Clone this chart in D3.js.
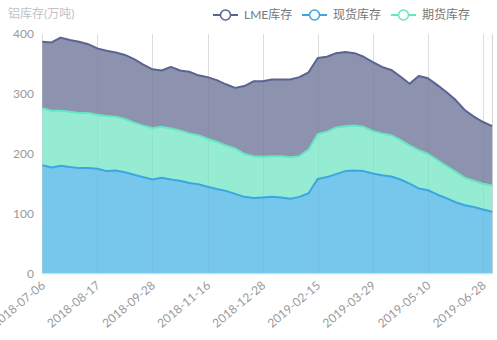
<!DOCTYPE html>
<html>
<head>
<meta charset="utf-8">
<script src="https://cdn.jsdelivr.net/npm/d3@7/dist/d3.min.js"></script>
<style>
  html, body { margin: 0; padding: 0; background: #fff; }
  svg { display: block; font-family: Lato, "Noto Sans CJK SC", sans-serif; }
</style>
</head>
<body>
<svg id="chart" width="497" height="340"></svg>
<script>
// Weekly aluminium inventory (万吨)
const dates = [
  "2018-07-06","2018-07-13","2018-07-20","2018-07-27","2018-08-03","2018-08-10",
  "2018-08-17","2018-08-24","2018-08-31","2018-09-07","2018-09-14","2018-09-21",
  "2018-09-28","2018-10-12","2018-10-19","2018-10-26","2018-11-02","2018-11-09",
  "2018-11-16","2018-11-23","2018-11-30","2018-12-07","2018-12-14","2018-12-21",
  "2018-12-28","2019-01-04","2019-01-11","2019-01-18","2019-01-25","2019-02-01",
  "2019-02-15","2019-02-22","2019-03-01","2019-03-08","2019-03-15","2019-03-22",
  "2019-03-29","2019-04-04","2019-04-12","2019-04-19","2019-04-26","2019-05-03",
  "2019-05-10","2019-05-17","2019-05-24","2019-05-31","2019-06-14","2019-06-21",
  "2019-06-28","2019-07-05"
];

const spotStock = [
  181,177,180,178,176,176,175,171,172,169,165,161,157,160,157,155,151,149,
  145,141,138,133,128,126,127,128,127,125,128,134,158,161,166,171,172,171,
  167,164,162,157,150,142,139,132,126,119,114,111,107,103
];

const futuresStock = [
  95,95,92,92,92,92,90,92,90,89,87,86,86,85,85,84,83,82,
  80,79,76,76,72,70,68,68,69,69,68,73,75,76,78,75,75,74,
  71,70,69,66,64,64,61,58,54,51,46,44,43,44
];

const lmeStock = [
  111,114,122,120,119,115,111,109,107,107,106,102,98,94,103,100,103,100,
  103,103,102,101,113,125,126,128,128,130,132,129,127,125,124,124,121,117,
  115,111,109,106,103,124,126,125,123,120,113,107,103,99
];

const yTicks = [0, 100, 200, 300, 400];
const labelEvery = 6;

const legendItems = [
  { key: "lme", name: "LME库存" },
  { key: "spot", name: "现货库存" },
  { key: "futures", name: "期货库存" }
];

const styles = {
  spot:    { fill: "#77c6eb", line: "#3ba7e1" },
  futures: { fill: "#95ecd3", line: "#66e5c3" },
  lme:     { fill: "#8d93ae", line: "#5a6491" }
};

const svg = d3.select("#chart");
const plotLeft = 42.3, plotRight = 492.2, plotTop = 34, plotBottom = 273.5;

const x = d3.scaleLinear().domain([0, dates.length - 1]).range([plotLeft, plotRight]);
const y = d3.scaleLinear().domain([0, 400]).range([plotBottom, plotTop]);

const rows = dates.map((d, i) => ({
  date: d, spot: spotStock[i], futures: futuresStock[i], lme: lmeStock[i]
}));
const stacked = d3.stack().keys(["spot", "futures", "lme"])(rows);

// vertical split lines behind the areas
const gridIdx = d3.range(0, dates.length, labelEvery);
svg.append("g").selectAll("line").data(gridIdx.concat([dates.length - 1])).join("line")
  .attr("x1", d => Math.round(x(d)) + 0.5).attr("x2", d => Math.round(x(d)) + 0.5)
  .attr("y1", plotTop).attr("y2", plotBottom)
  .attr("stroke", d => d === dates.length - 1 ? "#d6d6d6" : "#e6e6e6")
  .attr("stroke-width", 1);

const area = d3.area().x((d, i) => x(i)).y0(d => y(d[0])).y1(d => y(d[1]));
const line = d3.line().x((d, i) => x(i)).y(d => y(d[1]));

const layers = svg.append("g");
stacked.forEach(s => {
  layers.append("path").attr("d", area(s)).attr("fill", styles[s.key].fill);
});

// faint split lines showing through the fills
svg.append("g").selectAll("line").data(gridIdx).join("line")
  .attr("x1", d => Math.round(x(d)) + 0.5).attr("x2", d => Math.round(x(d)) + 0.5)
  .attr("y1", plotTop).attr("y2", plotBottom)
  .attr("stroke", "rgba(0,0,0,0.035)");

const lines = svg.append("g");
stacked.forEach(s => {
  lines.append("path").attr("d", line(s)).attr("fill", "none")
    .attr("stroke", styles[s.key].line).attr("stroke-width", 2)
    .attr("stroke-linejoin", "round");
});

// x axis line
svg.append("line").attr("x1", plotLeft).attr("x2", plotRight)
  .attr("y1", plotBottom + 0.5).attr("y2", plotBottom + 0.5)
  .attr("stroke", "#dfe6ec").attr("stroke-width", 1);

// x labels
svg.append("g").selectAll("text").data(gridIdx).join("text")
  .attr("transform", d => `translate(${x(d) + 1},${plotBottom + 10}) rotate(-40)`)
  .attr("text-anchor", "end").attr("dy", "0.35em")
  .attr("font-size", 12).attr("fill", "#9a9a9a")
  .text(d => dates[d]);

// y labels
svg.append("g").selectAll("text").data(yTicks).join("text")
  .attr("x", 34).attr("y", d => y(d)).attr("dy", "0.35em")
  .attr("text-anchor", "end").attr("font-size", 12).attr("fill", "#9a9a9a")
  .text(d => d);

// y axis name
svg.append("text").attr("x", 8).attr("y", 14).attr("dy", "0.35em")
  .attr("font-size", 12).attr("fill", "#c2c2c2").text("铝库存(万吨)");

// legend
const legendX = [213, 302, 391];
const lg = svg.append("g").selectAll("g").data(legendItems).join("g")
  .attr("transform", (d, i) => `translate(${legendX[i]},15)`);
lg.append("line").attr("x1", 0).attr("x2", 25).attr("y1", 0).attr("y2", 0)
  .attr("stroke", d => styles[d.key].line).attr("stroke-width", 2);
lg.append("circle").attr("cx", 12.5).attr("cy", 0).attr("r", 5)
  .attr("fill", "#fff").attr("stroke", d => styles[d.key].line).attr("stroke-width", 1.5);
lg.append("text").attr("x", 31).attr("y", 0).attr("dy", "0.35em")
  .attr("font-size", 12).attr("fill", "#777").text(d => d.name);
</script>
</body>
</html>
